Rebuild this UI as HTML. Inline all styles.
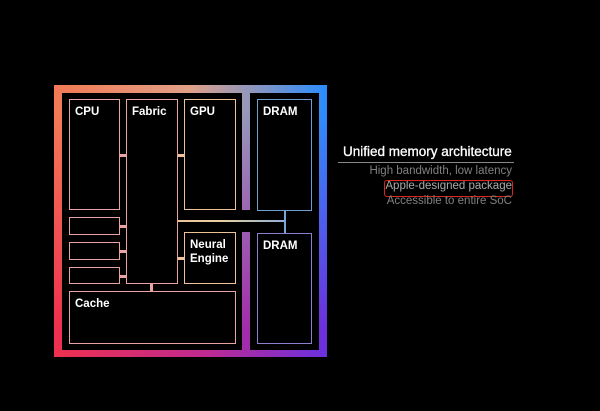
<!DOCTYPE html><html><head><style>
body{margin:0;width:600px;height:411px;background:#000;position:relative;overflow:hidden;font-family:"Liberation Sans",sans-serif}
div{position:absolute;box-sizing:border-box}
.g1{left:54px;top:85px;width:273px;height:272px;background:linear-gradient(to right,#f0304e,#c02a90 55%,#6a30e0)}
.g2{left:54px;top:85px;width:273px;height:272px;background:linear-gradient(to right,#f37a55,#e0a088 50%,#2a8cff);-webkit-mask-image:linear-gradient(to bottom,#000 10%,transparent 90%)}
.in{background:#000}
.b{border:1.5px solid #e9a3a3;color:#fff;font-size:11.5px;font-weight:bold;padding:5px 0 0 5px;line-height:14px}
.o{border-color:#eec39a}.d{border-color:#6f9fd0}.d2{border-color:#8a7fd0}
.l{background:#e9a3a3}
.t{color:#808080;font-size:11.5px;right:88px;text-align:right;white-space:nowrap}
</style></head><body>
<div class="g1"></div><div class="g2"></div>
<div class="in" style="left:62px;top:93px;width:180px;height:257px"></div>
<div class="in" style="left:250px;top:93px;width:69px;height:257px"></div>
<div class="in" style="left:240px;top:210px;width:12px;height:22px"></div>
<div class="b" style="left:69px;top:99px;width:51px;height:111px">CPU</div>
<div class="b" style="left:126px;top:99px;width:52px;height:185px">Fabric</div>
<div class="b o" style="left:184px;top:99px;width:52px;height:111px">GPU</div>
<div class="b d" style="left:257px;top:99px;width:55px;height:112px">DRAM</div>
<div class="b d2" style="left:257px;top:233px;width:55px;height:111px">DRAM</div>
<div class="b" style="left:69px;top:217px;width:51px;height:18px"></div>
<div class="b" style="left:69px;top:242px;width:51px;height:18px"></div>
<div class="b" style="left:69px;top:267px;width:51px;height:17px"></div>
<div class="b o" style="left:184px;top:232px;width:52px;height:52px">Neural<br>Engine</div>
<div class="b" style="left:69px;top:291px;width:167px;height:53px">Cache</div>
<div class="l" style="left:120px;top:154px;width:6px;height:3px"></div>
<div class="l" style="left:120px;top:225px;width:6px;height:3px"></div>
<div class="l" style="left:120px;top:250px;width:6px;height:3px"></div>
<div class="l" style="left:120px;top:275px;width:6px;height:3px"></div>
<div class="l" style="left:178px;top:154px;width:6px;height:3px;background:#eec39a"></div>
<div class="l" style="left:178px;top:257px;width:6px;height:3px;background:#eec39a"></div>
<div class="l" style="left:150px;top:284px;width:3px;height:7px"></div>
<div style="left:178px;top:220px;width:108px;height:2px;background:linear-gradient(to right,#eec39a,#e8d0a0 40%,#8ab0d8)"></div>
<div style="left:284px;top:211px;width:2px;height:22px;background:#7aa5d5"></div>
<div style="left:343px;top:144px;color:#fff;font-size:13.5px;white-space:nowrap;-webkit-text-stroke:0.3px #fff">Unified memory architecture</div>
<div style="left:338px;top:162px;width:176px;height:1px;background:#888"></div>
<div class="t" style="top:165px">High bandwidth, low latency</div>
<div class="t" style="top:180px;color:#aaa">Apple-designed package</div>
<div style="left:384px;top:180px;width:129px;height:17px;border:1.5px solid #d8281e;border-radius:3px"></div>
<div class="t" style="top:195px">Accessible to entire SoC</div>
</body></html>
